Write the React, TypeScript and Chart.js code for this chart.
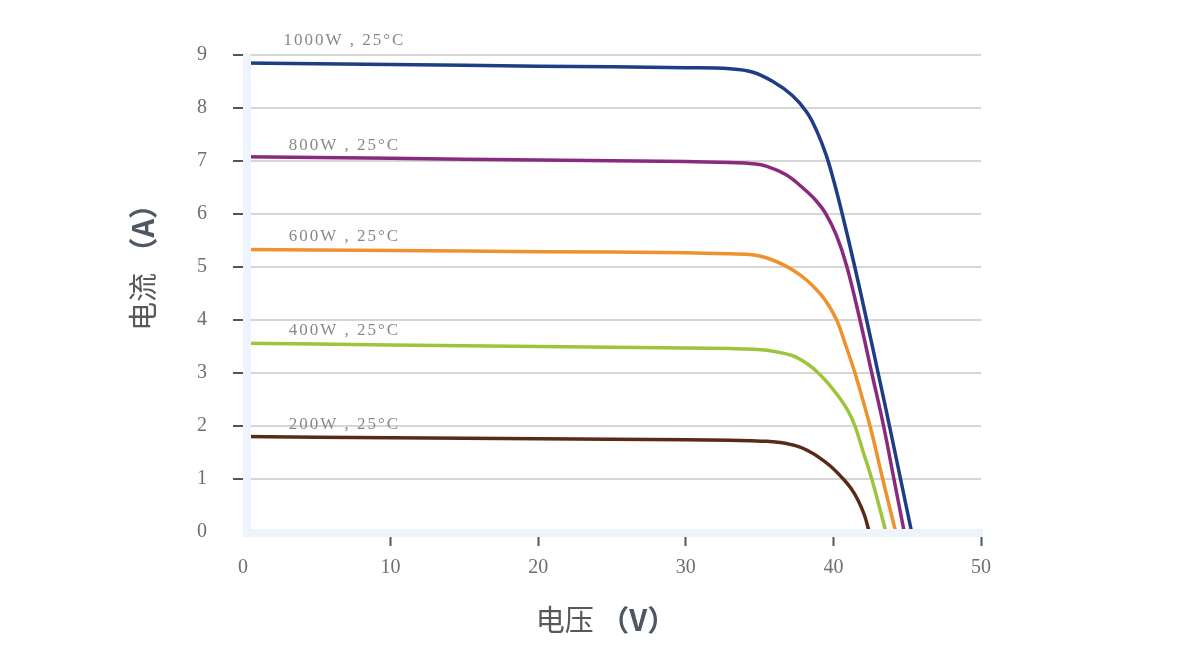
import React, { useEffect, useRef } from "react";
import { Chart, registerables } from "chart.js";

Chart.register(...registerables);

// Series: irradiance levels at 25°C
const seriesNames = ["1000W", "800W", "600W", "400W", "200W"];
const seriesColors = ["#1f3d84", "#8a2a7e", "#ee922c", "#9dc53c", "#5a2a18"];

const v1000 = [0, 10, 20, 30, 33, 34.5, 35.9, 37.2, 38.2, 38.9, 39.5, 40.05, 40.6, 41.45, 42.25, 43.03, 43.8, 44.55, 45.3];
const i1000 = [8.85, 8.82, 8.79, 8.76, 8.74, 8.68, 8.5, 8.24, 7.92, 7.55, 7.12, 6.6, 6.0, 5.0, 4.0, 3.0, 2.0, 1.0, 0];

const v800 = [0, 10, 20, 30, 33, 34.5, 35.5, 36.8, 37.9, 38.8, 39.45, 40.2, 40.9, 41.8, 42.6, 43.4, 44.1, 44.8];
const i800 = [7.08, 7.05, 7.02, 6.99, 6.97, 6.95, 6.9, 6.74, 6.5, 6.26, 6.02, 5.6, 5.02, 4.0, 3.0, 2.0, 1.0, 0];

const v600 = [0, 10, 20, 30, 33, 34.5, 35.5, 36.7, 37.74, 38.7, 39.43, 40.22, 40.8, 41.46, 42.48, 43.34, 44.22];
const i600 = [5.33, 5.31, 5.29, 5.27, 5.25, 5.23, 5.17, 5.03, 4.85, 4.62, 4.38, 4.0, 3.55, 3.0, 2.0, 1.0, 0];

const v400 = [0, 10, 20, 30, 33, 34.5, 35.5, 36.5, 37.2, 37.74, 38.3, 38.87, 39.6, 40.45, 41.0, 41.46, 42.03, 42.6, 43.56];
const i400 = [3.56, 3.53, 3.5, 3.47, 3.46, 3.45, 3.43, 3.38, 3.33, 3.26, 3.16, 3.03, 2.82, 2.52, 2.28, 2.0, 1.5, 1.0, 0];

const v200 = [0, 10, 20, 30, 33, 34.5, 35.5, 36.4, 37.2, 37.74, 38.3, 38.8, 39.77, 40.67, 41.2, 41.67, 42.1, 42.43];
const i200 = [1.8, 1.78, 1.76, 1.74, 1.73, 1.72, 1.71, 1.69, 1.645, 1.6, 1.53, 1.45, 1.25, 1.0, 0.82, 0.6, 0.32, 0];

const voltages = [v1000, v800, v600, v400, v200];
const currents = [i1000, i800, i600, i400, i200];

// Curve annotations
const labelTexts = ["1000W , 25°C", "800W , 25°C", "600W , 25°C", "400W , 25°C", "200W , 25°C"];
const labelV = [6.8, 6.8, 6.8, 6.8, 6.8];
const labelI = [9.28, 7.3, 5.58, 3.81, 2.02];

// Axes
const xMin = 0, xMax = 50, xStep = 10;
const yMin = 0, yMax = 9, yStep = 1;
const xTitle = ["电压", " （V）"];
const yTitle = ["电流", " （A）"];

const TICK_FONT = '"Liberation Serif", "Times New Roman", serif';
const CJK_FONT = '"Noto Sans CJK SC", "Noto Sans", sans-serif';

const decorPlugin = {
  id: "decor",
  afterDatasetsDraw(chart: any) {
    const { ctx, chartArea: ca, scales } = chart;
    ctx.save();
    // light-blue axis bands
    ctx.fillStyle = "#eef4fc";
    ctx.fillRect(ca.left, ca.top - 2, 8, ca.bottom - ca.top + 7);
    ctx.fillRect(ca.left, ca.bottom - 3, ca.right - ca.left + 2, 8);
    // curve labels
    ctx.font = "17px " + TICK_FONT;
    try { (ctx as any).letterSpacing = "2px"; } catch (e) {}
    ctx.fillStyle = "#888888";
    ctx.textAlign = "center";
    ctx.textBaseline = "middle";
    labelTexts.forEach((t, k) => {
      ctx.fillText(t, scales.x.getPixelForValue(labelV[k]) + 1, scales.y.getPixelForValue(labelI[k]));
    });
    ctx.restore();
  },
  afterDraw(chart: any) {
    const { ctx, chartArea: ca } = chart;
    const drawTitle = (parts: string[], cx: number, cy: number, rot: number) => {
      ctx.save();
      ctx.translate(cx, cy);
      ctx.rotate(rot);
      ctx.textBaseline = "middle";
      ctx.textAlign = "left";
      ctx.font = "29px " + CJK_FONT;
      const w1 = ctx.measureText(parts[0]).width;
      ctx.font = "bold 29px " + CJK_FONT;
      const w2 = ctx.measureText(parts[1]).width;
      const start = -(w1 + w2) / 2;
      ctx.fillStyle = "#595959";
      ctx.font = "29px " + CJK_FONT;
      ctx.fillText(parts[0], start, 0);
      ctx.fillStyle = "#4f5762";
      ctx.font = "bold 29px " + CJK_FONT;
      ctx.fillText(parts[1], start + w1, 0);
      ctx.restore();
    };
    drawTitle(xTitle, (ca.left + ca.right) / 2 - 6, 620, 0);
    drawTitle(yTitle, 143, (ca.top + ca.bottom) / 2 - 33, -Math.PI / 2);
  },
};

export default function App() {
  const ref = useRef<HTMLCanvasElement>(null);
  useEffect(() => {
    const datasets = seriesNames.map((name, k) => ({
      label: name,
      data: voltages[k].map((v, j) => ({ x: v, y: currents[k][j] })),
      borderColor: seriesColors[k],
      backgroundColor: seriesColors[k],
      borderWidth: 3.5,
      pointRadius: 0,
      fill: false,
      tension: 0.4,
      borderCapStyle: "round" as const,
      borderJoinStyle: "round" as const,
    }));
    const hideZero = (c: any) => (c.tick && c.tick.value === 0 ? "rgba(0,0,0,0)" : "#555555");
    const chart = new Chart(ref.current!, {
      type: "line",
      data: { datasets },
      options: {
        responsive: false,
        animation: false,
        devicePixelRatio: 1,
        layout: { padding: { left: 0, right: 219, top: 55, bottom: 0 } },
        plugins: { legend: { display: false }, tooltip: { enabled: false } },
        events: [],
        scales: {
          x: {
            type: "linear",
            min: xMin,
            max: xMax,
            afterFit: (s: any) => { s.height = 123; },
            border: { display: false },
            grid: { drawOnChartArea: false, drawTicks: true, tickLength: 14, tickWidth: 2, tickColor: hideZero },
            ticks: { stepSize: xStep, padding: 10, color: "#6e6e6e", font: { family: TICK_FONT, size: 20 } },
          },
          y: {
            type: "linear",
            min: yMin,
            max: yMax,
            afterFit: (s: any) => { s.width = 243; },
            border: { display: false },
            grid: { color: "#d6d6d6", lineWidth: 2, drawTicks: true, tickLength: 10, tickWidth: 2, tickColor: hideZero },
            ticks: { stepSize: yStep, padding: 26, color: "#6e6e6e", font: { family: TICK_FONT, size: 20 } },
          },
        },
      },
      plugins: [decorPlugin],
    });
    return () => chart.destroy();
  }, []);
  return (
    <canvas
      ref={ref}
      width={1200}
      height={655}
      style={{ position: "fixed", left: 0, top: 0, width: 1200, height: 655, display: "block" }}
    />
  );
}
